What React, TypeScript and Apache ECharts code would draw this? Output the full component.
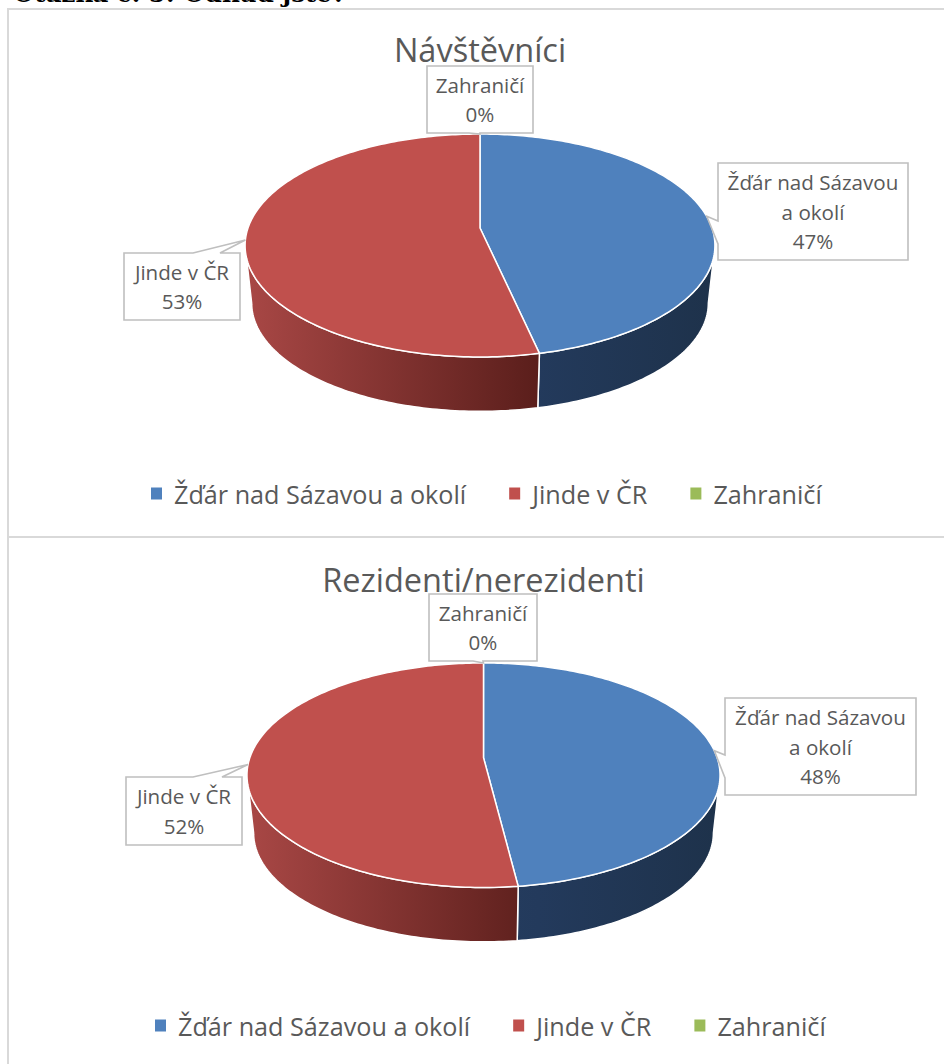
import React, { useEffect, useRef } from "react";
import * as echarts from "echarts";

const categories = ["Žďár nad Sázavou a okolí", "Jinde v ČR", "Zahraničí"];
const labelLines = [["Žďár nad Sázavou", "a okolí"], ["Jinde v ČR"], ["Zahraničí"]];
const visitorValues = [46.52, 53.48, 0];
const residentValues = [48, 52, 0];
const topColors = ["#4f81bd", "#c0504d", "#9bbb59"];
const FONT = "'Open Sans', sans-serif";
const TEXT = "#595959";

const wallStops = [
  [{ offset: 0, color: "#2a4468" }, { offset: 0.62, color: "#233a5c" }, { offset: 1, color: "#1e324b" }],
  [{ offset: 0, color: "#a84745" }, { offset: 0.63, color: "#5a1e1b" }, { offset: 1, color: "#5a1e1b" }],
  [{ offset: 0, color: "#6e8a3c" }, { offset: 1, color: "#556b2f" }],
];

type Box = { x: number; y: number; w: number; h: number; side: string; a: number; b: number };
type Panel = {
  top: number; height: number; frameY: number; title: string; titleY: number; values: number[];
  cx: number; cy: number; rx: number; ryTop: number; legendLeft: number; legendY: number;
  boxes: Box[]; heading?: string;
};

const K = 0.157;
const WALL_DY = 58;
const WALL_SCALE = 0.972;
const FRONT_START = (Math.acos(-K) * 180) / Math.PI;
const FRONT_END = 360 - FRONT_START;

const panels: Panel[] = [
  {
    top: 0, height: 530, frameY: 9, title: "Návštěvníci", titleY: 51, values: visitorValues,
    cx: 480, cy: 228, rx: 232, ryTop: 108.7, legendLeft: 146, legendY: 495,
    heading: "Otázka č. 5: Odkud jste?",
    boxes: [
      { x: 718, y: 163, w: 190, h: 97, side: "left", a: 221, b: 244 },
      { x: 124, y: 253, w: 116, h: 67, side: "top", a: 193, b: 220 },
      { x: 427, y: 66, w: 106, h: 67, side: "bottom", a: 469, b: 480 },
    ],
  },
  {
    top: 530, height: 534, frameY: 537, title: "Rezidenti/nerezidenti", titleY: 581, values: residentValues,
    cx: 483.5, cy: 757.6, rx: 233.6, ryTop: 109.5, legendLeft: 150, legendY: 1027,
    boxes: [
      { x: 725, y: 698, w: 191, h: 97, side: "left", a: 755, b: 778 },
      { x: 126, y: 777, w: 116, h: 68, side: "top", a: 193, b: 222 },
      { x: 429, y: 594, w: 108, h: 67, side: "bottom", a: 473, b: 483 },
    ],
  },
];

function buildOption(p: Panel) {
  const total = p.values.reduce((s, v) => s + v, 0);
  const project = (deg: number, s: number, dy: number) => {
    const t = (deg * Math.PI) / 180;
    const u = Math.sin(t);
    const v = -Math.cos(t);
    const w = 1 - K * v;
    return [p.cx + (s * p.rx * u) / w, p.cy + dy + (s * p.ryTop * v) / w];
  };
  const offset = (y: number) => y - p.top;
  const arc = (a0: number, a1: number, s: number, dy: number) => {
    const n = Math.max(1, Math.ceil(Math.abs(a1 - a0)));
    const pts: number[][] = [];
    for (let i = 0; i <= n; i++) {
      const q = project(a0 + ((a1 - a0) * i) / n, s, dy);
      pts.push([q[0], offset(q[1])]);
    }
    return pts;
  };

  const series = categories.map((name, idx) => {
    const start = (p.values.slice(0, idx).reduce((s, v) => s + v, 0) / total) * 360;
    return {
      type: "custom",
      name,
      coordinateSystem: "none",
      silent: true,
      itemStyle: { color: topColors[idx] },
      data: [[p.values[idx]]],
      renderItem: (_params: unknown, api: any) => {
        const value = api.value(0);
        const sweep = (value / total) * 360;
        const end = start + sweep;
        const children: any[] = [];
        if (sweep > 0) {
          const wallFrom = Math.max(start, FRONT_START);
          const wallTo = Math.min(end, FRONT_END);
          if (wallTo > wallFrom) {
            const wall = arc(wallFrom, wallTo, 1, 0).concat(arc(wallTo, wallFrom, WALL_SCALE, WALL_DY));
            children.push({
              type: "polygon",
              z2: 1,
              shape: { points: wall },
              style: {
                fill: new echarts.graphic.LinearGradient(p.cx - p.rx, 0, p.cx + p.rx, 0, wallStops[idx], true),
                stroke: "#ffffff",
                lineWidth: 1.5,
              },
            });
          }
          const c = project(0, 0, 0);
          children.push({
            type: "polygon",
            z2: 10,
            shape: { points: [[c[0], offset(c[1])], ...arc(start, end, 1, 0)] },
            style: { fill: topColors[idx], stroke: "#ffffff", lineWidth: 1.5 },
          });
        }
        const tip = project(start + sweep / 2, 1, 0);
        const tipP = [tip[0], offset(tip[1])];
        const b = p.boxes[idx];
        const y0 = offset(b.y);
        const y1 = y0 + b.h;
        const x1 = b.x + b.w;
        const outline: number[][] = [[b.x, y0]];
        if (b.side === "top") outline.push([b.a, y0], tipP, [b.b, y0]);
        outline.push([x1, y0], [x1, y1]);
        if (b.side === "bottom") outline.push([b.b, y1], tipP, [b.a, y1]);
        outline.push([b.x, y1]);
        if (b.side === "left") outline.push([b.x, offset(b.b)], tipP, [b.x, offset(b.a)]);
        children.push({
          type: "polygon",
          z2: 20,
          shape: { points: outline },
          style: { fill: "#ffffff", stroke: "#bfbfbf", lineWidth: 1.6 },
        });
        const lines = [...labelLines[idx], `${Math.round((value / total) * 100)}%`];
        const lh = 29.5;
        const cy = (y0 + y1) / 2 - ((lines.length - 1) * lh) / 2;
        lines.forEach((text, i) => {
          children.push({
            type: "text",
            z2: 30,
            style: {
              text,
              x: b.x + b.w / 2,
              y: cy + i * lh,
              textAlign: "center",
              textVerticalAlign: "middle",
              fontFamily: FONT,
              fontSize: 20.6,
              fill: TEXT,
            },
          });
        });
        return { type: "group", children };
      },
    };
  });

  const frameStyle = { stroke: "#d9d9d9", lineWidth: 2 };
  const graphic: any[] = [
    {
      type: "line",
      silent: true,
      shape: { x1: 8, y1: Math.max(offset(p.frameY), 0), x2: 8, y2: p.height },
      style: frameStyle,
    },
    {
      type: "line",
      silent: true,
      shape: { x1: 7, y1: offset(p.frameY), x2: 944, y2: offset(p.frameY) },
      style: frameStyle,
    },
  ];
  if (p.top > 0) {
    graphic.push({
      type: "line",
      silent: true,
      shape: { x1: 8, y1: 0, x2: 8, y2: offset(p.frameY) },
      style: frameStyle,
    });
  }
  if (p.heading) {
    graphic.push({
      type: "text",
      silent: true,
      style: {
        text: p.heading,
        x: 13,
        y: -19,
        fontFamily: "'DejaVu Serif', serif",
        fontWeight: "bold",
        fontSize: 24.5,
        fill: "#000000",
      },
    });
  }

  return {
    animation: false,
    backgroundColor: "#ffffff",
    title: {
      text: p.title,
      left: p.cx - 5,
      top: offset(p.titleY) - 23,
      textAlign: "center",
      textStyle: { fontFamily: FONT, fontSize: 32.5, fontWeight: "normal", color: TEXT },
    },
    legend: {
      left: p.legendLeft,
      top: offset(p.legendY) - 19,
      orient: "horizontal",
      icon: "rect",
      itemWidth: 11,
      itemHeight: 12,
      itemGap: 43,
      data: categories,
      selectedMode: false,
      textStyle: { fontFamily: FONT, fontSize: 25.2, color: TEXT, padding: [0, 0, 0, 7] },
    },
    graphic,
    series,
  };
}

function PieChart({ panel }: { panel: Panel }) {
  const ref = useRef<HTMLDivElement>(null);
  useEffect(() => {
    const chart = echarts.init(ref.current!, undefined, { renderer: "svg" });
    chart.setOption(buildOption(panel) as any);
    return () => chart.dispose();
  }, [panel]);
  return (
    <div
      ref={ref}
      style={{ position: "absolute", left: 0, top: panel.top, width: 944, height: panel.height }}
    />
  );
}

export default function App() {
  return (
    <div style={{ position: "absolute", left: 0, top: 0, width: 944, height: 1064, overflow: "hidden", background: "#fff" }}>
      {panels.map((p) => (
        <PieChart key={p.title} panel={p} />
      ))}
    </div>
  );
}
